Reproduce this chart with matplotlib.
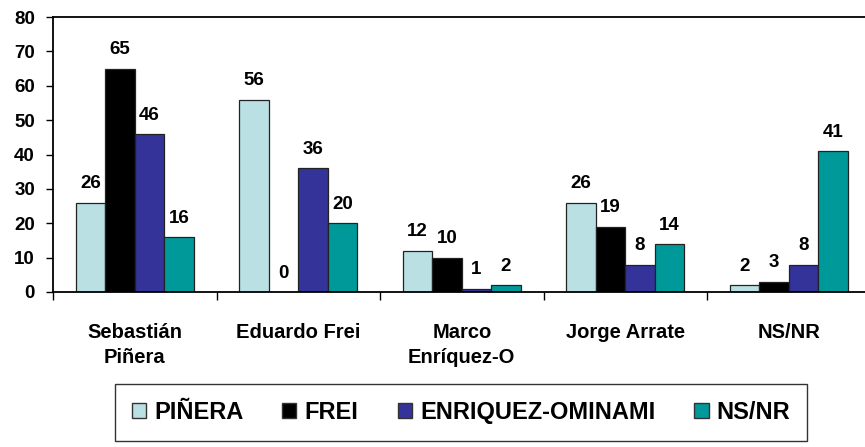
import matplotlib
matplotlib.use("Agg")
import matplotlib.pyplot as plt
import numpy as np
from matplotlib.patches import Patch

plt.rcParams['font.family'] = ['Liberation Sans', 'DejaVu Sans']
plt.rcParams['font.weight'] = 'bold'

categories = ["Sebastián\nPiñera", "Eduardo Frei", "Marco\nEnríquez-O", "Jorge Arrate", "NS/NR"]
series_names = ["PIÑERA", "FREI", "ENRIQUEZ-OMINAMI", "NS/NR"]
pinera = [26, 56, 12, 26, 2]
frei = [65, 0, 10, 19, 3]
enriquez = [46, 36, 1, 8, 8]
nsnr = [16, 20, 2, 14, 41]
yticks = [0, 10, 20, 30, 40, 50, 60, 70, 80]

colors = ["#BAE0E3", "#000000", "#333399", "#009999"]
series = [pinera, frei, enriquez, nsnr]

fig = plt.figure(figsize=(8.65, 4.47), dpi=100)
ax = fig.add_axes([53/865, 155/447, 817.5/865, 275/447])

x = np.arange(len(categories))
w = 0.18
for i, (vals, c) in enumerate(zip(series, colors)):
    pos = x + (i - 1.5) * w
    ax.bar(pos, vals, width=w, color=c, edgecolor="#222222", linewidth=0.9, zorder=2)
    for p, v in zip(pos, vals):
        ax.text(p, v + 3, str(v), ha="center", va="bottom", fontsize=13.5, fontweight="bold")

ax.set_xlim(-0.5, len(categories) - 0.5)
ax.set_ylim(0, 80)
ax.set_yticks(yticks)
ax.set_yticklabels([str(t) for t in yticks], fontsize=13.5, fontweight="bold")
ax.set_xticks(np.arange(len(categories) + 1) - 0.5, minor=False)
ax.set_xticklabels([])
ax.set_xticks(x, minor=True)
ax.set_xticklabels(categories, minor=True, fontsize=14.5, fontweight="bold", linespacing=1.45)
ax.tick_params(axis="x", which="minor", length=0, pad=22)
ax.tick_params(axis="x", which="major", length=6, width=1, direction="out")
ax.tick_params(axis="y", length=5, width=1, direction="out", pad=8)

for s in ["left", "bottom", "top"]:
    ax.spines[s].set_linewidth(1.3)
ax.spines["right"].set_visible(False)

handles = [Patch(facecolor=c, edgecolor="#333333", linewidth=1.0) for c in colors]
leg = fig.legend(handles, series_names, loc="center", ncol=4,
                 bbox_to_anchor=(115/865, 1 - 442/447, 692/865, 59/447),
                 mode="expand", frameon=True, fancybox=False, edgecolor="black",
                 prop={"size": 17, "weight": "bold"}, handlelength=0.6, handleheight=0.6,
                 handletextpad=0.35, borderaxespad=0, borderpad=0.7)
leg.get_frame().set_linewidth(1.0)

fig.savefig("out.png", dpi=100)
